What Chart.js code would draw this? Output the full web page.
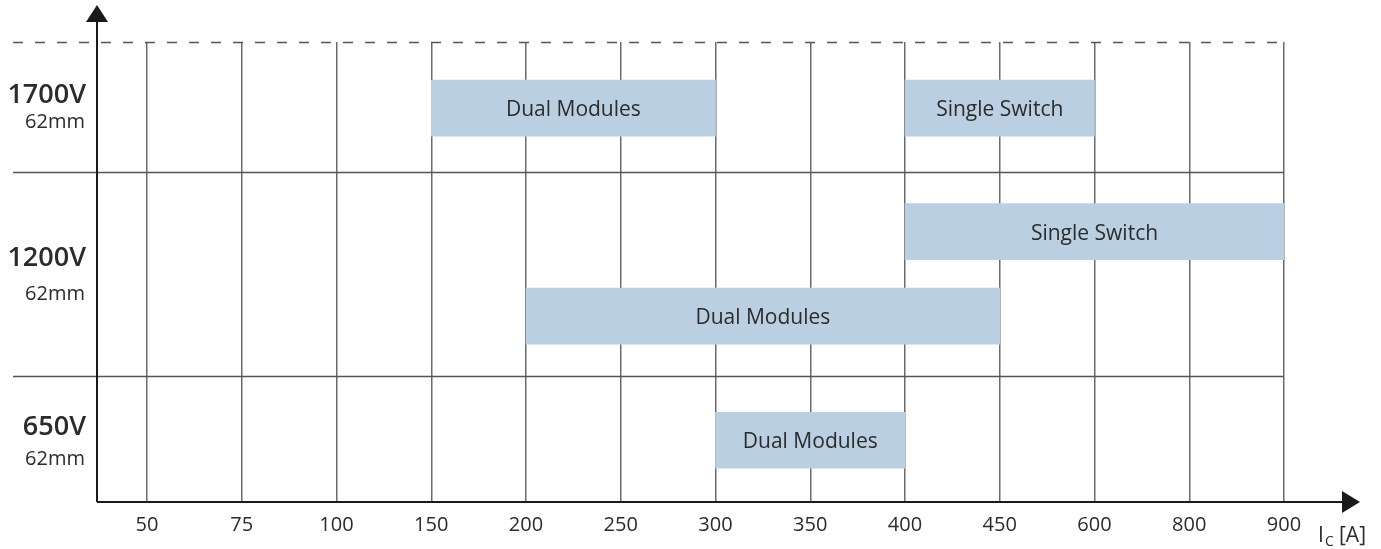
<!DOCTYPE html>
<html>
<head>
<meta charset="utf-8">
<script src="https://cdn.jsdelivr.net/npm/chart.js@4.4.1/dist/chart.umd.min.js"></script>
<style>
  html, body { margin: 0; padding: 0; background: #fff; }
  #wrap { width: 1381px; height: 549px; position: relative; }
</style>
</head>
<body>
<div id="wrap"><canvas id="chart"></canvas></div>
<script>
// --- data ---
const currentTicks = [50, 75, 100, 150, 200, 250, 300, 350, 400, 450, 600, 800, 900];
const barLabels = ['Dual Modules', 'Single Switch', 'Single Switch', 'Dual Modules', 'Dual Modules'];
const barStart = [150, 400, 400, 200, 300];
const barEnd = [300, 600, 900, 450, 400];
const barLane = [6.25, 6.25, 4.29, 2.95, 0.98];

const voltageLabels = ['1700V', '1200V', '650V'];
const packageLabels = ['62mm', '62mm', '62mm'];
const voltageY = [6.46, 3.87, 1.19];
const packageY = [6.02, 3.29, 0.68];
const rowBoundaries = [2.0, 5.24];
const yTop = 7.3;

const FONT = '"Open Sans", "Noto Sans", sans-serif';
const TEXT = '#2b2b2b';

const idx = a => currentTicks.indexOf(a);

const bars = barStart.map((s, i) => ({ x: [idx(s), idx(barEnd[i])], y: barLane[i] }));

const decor = {
    id: 'decor',
    beforeDatasetsDraw(chart) {
        const { ctx, chartArea, scales: { y } } = chart;
        ctx.save();
        ctx.strokeStyle = '#555';
        ctx.lineWidth = 1.5;
        // row separators
        rowBoundaries.forEach(v => {
            const py = Math.round(y.getPixelForValue(v)) + 0.5;
            ctx.beginPath();
            ctx.moveTo(13, py);
            ctx.lineTo(chartArea.right, py);
            ctx.stroke();
        });
        // dashed top line
        const pt = Math.round(y.getPixelForValue(yTop)) + 0.5;
        ctx.setLineDash([10, 12]);
        ctx.beginPath();
        ctx.moveTo(13, pt);
        ctx.lineTo(chartArea.right, pt);
        ctx.stroke();
        ctx.restore();
    },
    afterDatasetsDraw(chart) {
        const { ctx } = chart;
        const meta = chart.getDatasetMeta(0);
        ctx.save();
        ctx.fillStyle = TEXT;
        ctx.font = '21px ' + FONT;
        ctx.textAlign = 'center';
        ctx.textBaseline = 'middle';
        meta.data.forEach((el, i) => {
            const p = el.getProps(['x', 'y', 'base'], true);
            ctx.fillText(barLabels[i], (p.x + p.base) / 2, p.y + 2);
        });
        ctx.restore();
    },
    afterDraw(chart) {
        const { ctx, chartArea, scales: { y } } = chart;
        const x0 = chartArea.left, y0 = chartArea.bottom;
        ctx.save();
        ctx.strokeStyle = '#1a1a1a';
        ctx.fillStyle = '#1a1a1a';
        ctx.lineWidth = 2;
        // y axis + arrow
        ctx.beginPath();
        ctx.moveTo(x0, y0);
        ctx.lineTo(x0, 20);
        ctx.stroke();
        ctx.beginPath();
        ctx.moveTo(x0, 5);
        ctx.lineTo(x0 - 11, 22);
        ctx.lineTo(x0 + 11, 22);
        ctx.closePath();
        ctx.fill();
        // x axis + arrow
        ctx.beginPath();
        ctx.moveTo(x0, y0);
        ctx.lineTo(1345, y0);
        ctx.stroke();
        ctx.beginPath();
        ctx.moveTo(1360, y0);
        ctx.lineTo(1342, y0 - 11);
        ctx.lineTo(1342, y0 + 11);
        ctx.closePath();
        ctx.fill();

        // voltage / package labels
        ctx.fillStyle = TEXT;
        ctx.textAlign = 'right';
        ctx.textBaseline = 'middle';
        voltageLabels.forEach((t, i) => {
            ctx.font = '600 27px ' + FONT;
            ctx.fillText(t, 86, y.getPixelForValue(voltageY[i]));
            ctx.font = '20px ' + FONT;
            ctx.fillText(packageLabels[i], 85, y.getPixelForValue(packageY[i]));
        });

        // axis title I_C [A]
        ctx.textAlign = 'left';
        ctx.textBaseline = 'alphabetic';
        ctx.font = '21px ' + FONT;
        ctx.fillText('I', 1318, 542);
        ctx.font = '14px ' + FONT;
        ctx.fillText('C', 1325, 546);
        ctx.font = '21px ' + FONT;
        ctx.fillText('[A]', 1339, 542);
        ctx.restore();
    }
};

new Chart(document.getElementById('chart'), {
    type: 'bar',
    data: {
        datasets: [{
            data: bars,
            backgroundColor: '#bbcfe2',
            borderWidth: 0,
            barThickness: 56
        }]
    },
    options: {
        indexAxis: 'y',
        responsive: true,
        maintainAspectRatio: false,
        animation: false,
        layout: { padding: { top: 42, right: 97, left: 0, bottom: 0 } },
        plugins: { legend: { display: false }, tooltip: { enabled: false } },
        scales: {
            x: {
                type: 'linear',
                min: -0.528,
                max: currentTicks.length - 1,
                offset: false,
                afterBuildTicks: s => { s.ticks = currentTicks.map((_, i) => ({ value: i })); },
                afterFit: s => { s.height = 47; },
                ticks: {
                    autoSkip: false,
                    maxRotation: 0,
                    padding: 11,
                    color: TEXT,
                    font: { family: FONT, size: 20 },
                    callback: (v, i) => currentTicks[i]
                },
                grid: { color: '#6a6a6a', lineWidth: 1.5, drawTicks: false, offset: false },
                border: { display: false }
            },
            y: {
                type: 'linear',
                min: 0,
                max: yTop,
                offset: false,
                afterFit: s => { s.width = 97; },
                ticks: { display: false },
                grid: { display: false },
                border: { display: false }
            }
        }
    },
    plugins: [decor]
});
</script>
</body>
</html>
